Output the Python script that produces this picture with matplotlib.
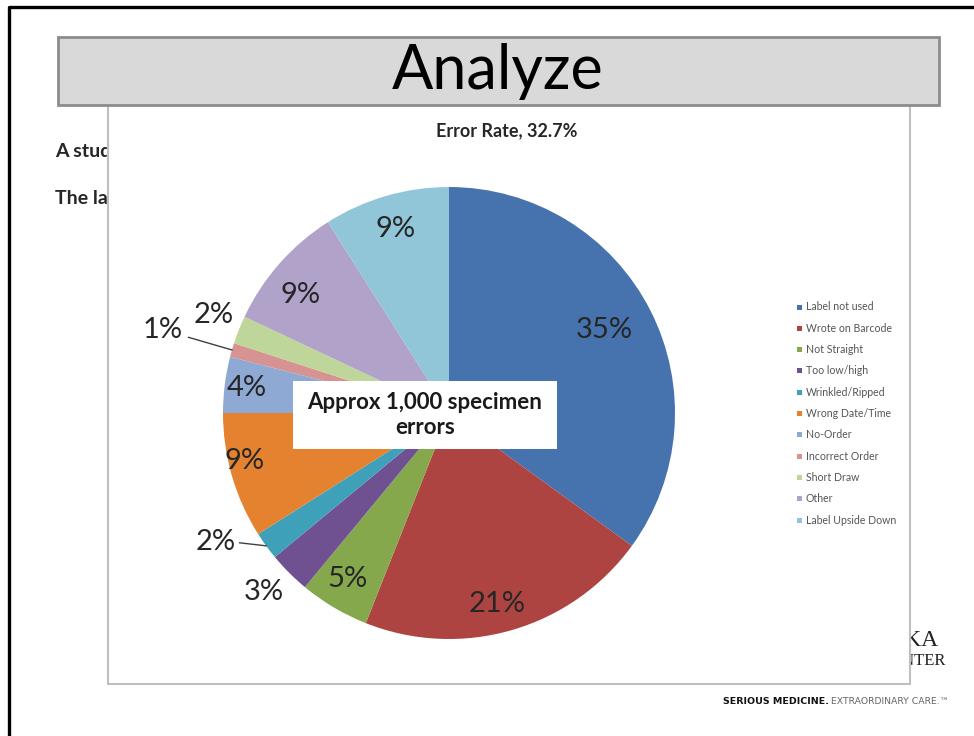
import numpy as np
import matplotlib.pyplot as plt
from matplotlib.patches import Rectangle

plt.rcParams['font.family'] = ['Lato', 'DejaVu Sans']

# specimen labelling error breakdown
categories = ['Label not used', 'Wrote on Barcode', 'Not Straight', 'Too low/high',
              'Wrinkled/Ripped', 'Wrong Date/Time', 'No-Order', 'Incorrect Order',
              'Short Draw', 'Other', 'Label Upside Down']
shares = [35, 21, 5, 3, 2, 9, 4, 1, 2, 9, 9]
chart_title = 'Error Rate, 32.7%'
callout = 'Approx 1,000 specimen\nerrors'

colors = ['#4673AE', '#AE4441', '#86A84D', '#6F5192', '#3FA0B9', '#E5822F',
          '#8EA9D3', '#D79391', '#BFD69B', '#B1A2C9', '#90C6D8']
# where each percentage sits: distance from centre (radii) and angle nudge (deg)
label_r = [0.78, 0.87, 0.86, 1.14, 1.18, 0.93, 0.90, 1.32, 1.13, 0.84, 0.85]
label_dang = [1, -2, -1, -1, -7, -3, 0, 0, -1, 3, 0]
leader = {4: (1.09, 1.0), 7: (1.2, 1.0)}

fig = plt.figure(figsize=(9.74, 7.36), dpi=100)
fig.patch.set_facecolor('white')

# slide background, pixel coordinates
bg = fig.add_axes([0, 0, 1, 1])
bg.set_xlim(0, 974)
bg.set_ylim(736, 0)
bg.axis('off')

bg.plot([9, 9, 980], [745, 7, 7], color='black', lw=2.4, zorder=1)
bg.add_patch(Rectangle((58, 37), 881, 68, fc='#D9D9D9', ec='#8C8C8C', lw=2, zorder=5))
bg.text(498, 72, 'Analyze', ha='center', va='center', fontsize=44, color='black', zorder=6)

bg.text(55, 152, 'A study', ha='left', va='center', fontsize=14, fontweight='bold',
        color='#262626', zorder=1)
bg.text(55, 198, 'The lab', ha='left', va='center', fontsize=14, fontweight='bold',
        color='#262626', zorder=1)
bg.text(938, 640, 'OKA', ha='right', va='center', fontsize=17, family='Liberation Serif',
        color='#222222', zorder=1)
bg.text(946, 661, 'ENTER', ha='right', va='center', fontsize=12, family='Liberation Serif',
        color='#222222', zorder=1)
bg.text(723, 701, 'SERIOUS MEDICINE.', ha='left', va='center', fontsize=6.8,
        fontweight='black', color='#111111', family='Liberation Sans Narrow')
bg.text(831, 701, 'EXTRAORDINARY CARE.\u2122', ha='left', va='center', fontsize=6.7,
        color='#666666', family='Liberation Sans Narrow')

# chart area
bg.add_patch(Rectangle((108, 95), 802, 589, fc='white', ec='#BFBFBF', lw=1.5, zorder=3))
bg.text(507, 131, chart_title, ha='center', va='center', fontsize=13, fontweight='bold',
        color='#262626', zorder=4)

# pie
pax = fig.add_axes([223 / 974, (736 - 639) / 736, 452 / 974, 452 / 736])
wedges, _ = pax.pie(shares, colors=colors, startangle=90, counterclock=False,
                    wedgeprops=dict(linewidth=0))
pax.set_xlim(-1, 1)
pax.set_ylim(-1, 1)
pax.set_aspect('equal')

cum = np.cumsum([0] + shares[:-1])
for i, v in enumerate(shares):
    mid = 90 - (cum[i] + v / 2) / sum(shares) * 360
    ang = np.radians(mid + label_dang[i])
    r = label_r[i]
    pax.text(r * np.cos(ang), r * np.sin(ang), f'{v}%', ha='center', va='center',
             fontsize=21, color='#262626', clip_on=False)
    if i in leader:
        r0, r1 = leader[i]
        a0 = np.radians(mid + label_dang[i] * 0.6)
        a1 = np.radians(mid)
        pax.plot([r0 * np.cos(a0), r1 * np.cos(a1)], [r0 * np.sin(a0), r1 * np.sin(a1)],
                 color='#404040', lw=1, clip_on=False)

# overlay: callout box and legend
top = fig.add_axes([0, 0, 1, 1])
top.set_xlim(0, 974)
top.set_ylim(736, 0)
top.axis('off')
top.add_patch(Rectangle((293, 381), 264, 68, fc='white', ec='none'))
top.text(425, 415, callout, ha='center', va='center', fontsize=16, fontweight='bold',
         color='#1a1a1a', linespacing=1.2)

for i, name in enumerate(categories):
    y = 307 + i * 21.3
    top.add_patch(Rectangle((797, y - 2.5), 5, 5, fc=colors[i], ec='none'))
    top.text(806, y, name, ha='left', va='center', fontsize=7.6, color='#555555')

fig.savefig('out.png', dpi=100)
